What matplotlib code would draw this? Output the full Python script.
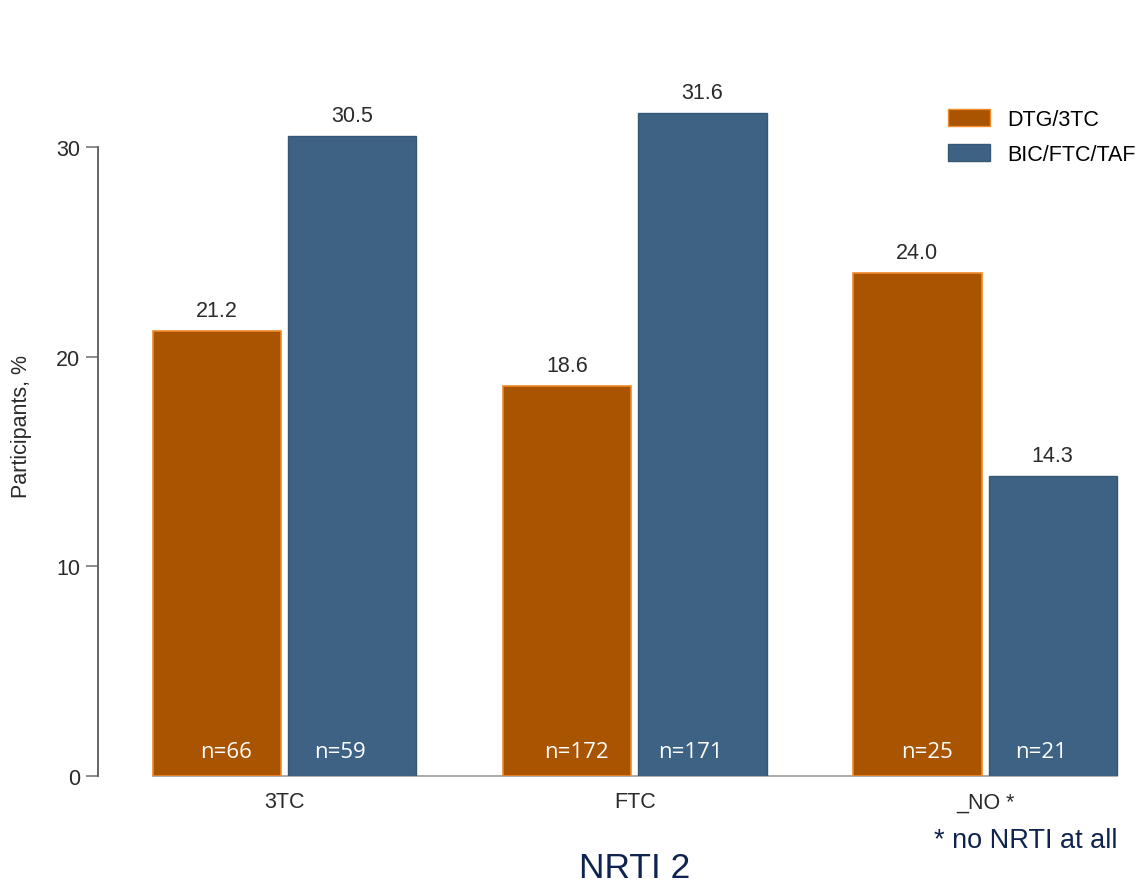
import numpy as np
import matplotlib.pyplot as plt
from matplotlib.patches import Patch

plt.rcParams['font.family'] = ['Liberation Sans', 'DejaVu Sans']

groups = ['3TC', 'FTC', '_NO *']
dtg = [21.2, 18.6, 24.0]
bic = [30.5, 31.6, 14.3]
n_dtg = ['n=66', 'n=172', 'n=25']
n_bic = ['n=59', 'n=171', 'n=21']
series = ['DTG/3TC', 'BIC/FTC/TAF']

orange = '#A95400'
orange_edge = '#F08A2A'
blue = '#3D6283'
blue_edge = '#365876'
txt = '#2a2a2a'
navy = '#0E2350'
fs = 15.5

fig = plt.figure(figsize=(11.44, 8.87), dpi=100)
ax = fig.add_axes([98 / 1144, 110 / 887, 1046 / 1144, 734 / 887])

x = np.arange(len(groups))
w = 0.366
off = 0.193

b1 = ax.bar(x - off, dtg, w, color=orange, edgecolor=orange_edge, linewidth=1.2, zorder=3)
b2 = ax.bar(x + off, bic, w, color=blue, edgecolor=blue_edge, linewidth=1.0, zorder=3)

for bars, vals in [(b1, dtg), (b2, bic)]:
    for b, v in zip(bars, vals):
        ax.text(b.get_x() + b.get_width() / 2, v + 0.72, f'{v:.1f}', ha='center', va='baseline',
                fontsize=fs, color=txt)

for i in range(len(groups)):
    ax.text(x[i] - off + 0.026, 1.19, n_dtg[i], ha='center', va='center', fontsize=16,
            color='white', family=['Open Sans', 'DejaVu Sans'], zorder=4)
    ax.text(x[i] + off - 0.034, 1.19, n_bic[i], ha='center', va='center', fontsize=16,
            color='white', family=['Open Sans', 'DejaVu Sans'], zorder=4)

ax.set_xlim(-0.533, 2.454)
ax.set_ylim(0, 35)
ax.set_yticks([0, 10, 20, 30])
ax.set_xticks(x)
ax.set_xticklabels(groups, fontsize=fs, color=txt)
ax.tick_params(axis='x', length=0, pad=11)
ax.tick_params(axis='y', length=9, width=1.2, color='#777777', labelsize=fs,
               labelcolor=txt, pad=4)

for s in ['top', 'right']:
    ax.spines[s].set_visible(False)
ax.spines['left'].set_bounds(0, 30)
ax.spines['left'].set_color('#666666')
ax.spines['left'].set_linewidth(1.4)
ax.spines['bottom'].set_bounds(x[0] - off - w / 2, x[-1] + off + w / 2)
ax.spines['bottom'].set_color('#aaaaaa')
ax.spines['bottom'].set_linewidth(1.4)

ax.set_ylabel('Participants, %', fontsize=fs, color=txt)
ax.yaxis.set_label_coords(-0.063, 0.477)

handles = [Patch(facecolor=orange, edgecolor=orange_edge), Patch(facecolor=blue, edgecolor=blue_edge)]
ax.legend(handles, series, loc='upper left', bbox_to_anchor=(0.804, 0.92), frameon=False,
          fontsize=fs, handlelength=1.95, handleheight=0.85, labelspacing=0.64, handletextpad=0.8,
          borderaxespad=0)

fig.text(1118 / 1144, 1 - 841 / 887, '* no NRTI at all', ha='right', va='center', fontsize=19.5, color=navy)
fig.text(635 / 1144, 1 - 869 / 887, 'NRTI 2', ha='center', va='center', fontsize=25.5, color=navy)

fig.savefig('out.png', dpi=100)
